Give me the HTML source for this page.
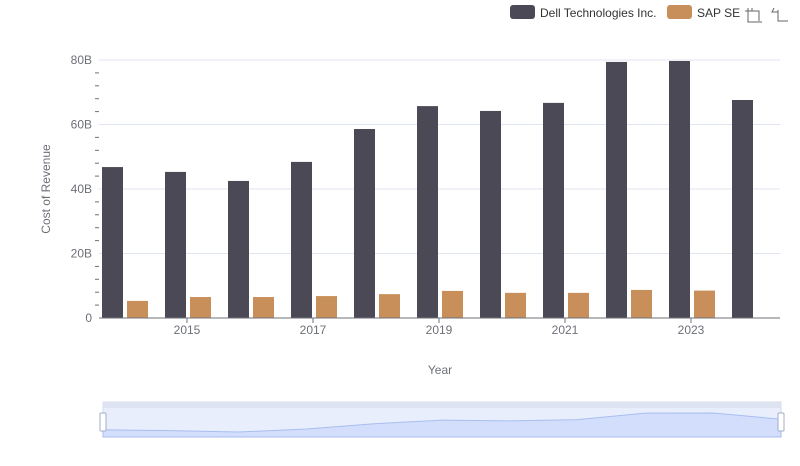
<!DOCTYPE html>
<html><head><meta charset="utf-8"><style>
body{margin:0;background:#fff;font-family:"Liberation Sans",sans-serif}
</style></head><body>
<svg id="c" width="800" height="461" xmlns="http://www.w3.org/2000/svg" font-family="Liberation Sans, sans-serif"></svg>
<script>
const years=[2014,2015,2016,2017,2018,2019,2020,2021,2022,2023,2024];
const dell=[46.8,45.3,42.5,48.4,58.6,65.7,64.2,66.7,79.4,79.7,67.6];
const sap=[5.3,6.5,6.5,6.8,7.4,8.4,7.8,7.8,8.7,8.5,null];
const yTicks=[0,20,40,60,80];
const yTickLabels=["0","20B","40B","60B","80B"];
const xLabelYears=[2015,2017,2019,2021,2023];
const svg=document.getElementById('c');
const NS='http://www.w3.org/2000/svg';
function mk(t,a,p){const e=document.createElementNS(NS,t);for(const k in a)e.setAttribute(k,a[k]);(p||svg).appendChild(e);return e;}
const X0=99,X1=780,Y0=318,Y80=60;
const gw=63;
const y=v=>Y0-(v/80)*(Y0-Y80);
const xc=i=>124+gw*i;
yTicks.forEach((t,i)=>{
 if(t>0){const g=mk('line',{x1:X0,x2:X1,y1:y(t),y2:y(t),stroke:'#e0e6f1'});}
 const l=mk('text',{x:92,y:y(t)+4,'text-anchor':'end','font-size':12,fill:'#6e7079'});l.textContent=yTickLabels[i];
 
});
for(let v=0;v<=80;v+=4){if(v%20){const m=mk('line',{x1:95,x2:99,y1:y(v),y2:y(v),stroke:'#6e7079'});}}
years.forEach((yr,i)=>{
 const c=xc(i);
 const b=mk('rect',{x:c-22,y:y(dell[i]),width:21,height:Y0-y(dell[i]),fill:'#4a4955'});
 
 if(sap[i]!=null){const s=mk('rect',{x:c+3,y:y(sap[i]),width:21,height:Y0-y(sap[i]),fill:'#c98f5a'});
 }
});
const ax=mk('line',{x1:X0,x2:X1,y1:Y0,y2:Y0,stroke:'#6e7079'});
xLabelYears.forEach(yr=>{const i=years.indexOf(yr);const c=xc(i);
 mk('line',{x1:c,x2:c,y1:Y0,y2:Y0+5,stroke:'#6e7079'});
 const t=mk('text',{x:c,y:Y0+16,'text-anchor':'middle','font-size':12,fill:'#6e7079'});t.textContent=yr;
 });
const yt=mk('text',{x:50,y:189,'text-anchor':'middle','font-size':12,fill:'#6e7079',transform:'rotate(-90 50 189)'});yt.textContent='Cost of Revenue';

const xt=mk('text',{x:440,y:374,'text-anchor':'middle','font-size':12,fill:'#6e7079'});xt.textContent='Year';

const lg=mk('g',{});
mk('rect',{x:510,y:5,width:25,height:14,rx:3,fill:'#4a4955'},lg);
let t1=mk('text',{x:540,y:17,'font-size':12,fill:'#333'},lg);t1.textContent='Dell Technologies Inc.';
mk('rect',{x:667,y:5,width:25,height:14,rx:3,fill:'#c98f5a'},lg);
let t2=mk('text',{x:697,y:17,'font-size':12,fill:'#333'},lg);t2.textContent='SAP SE';
const tb=mk('g',{stroke:'#666',fill:'none'});
mk('path',{d:'M748 8v14h14M745 11h14v10M752 8v3'},tb);
mk('path',{d:'M774 8l-2 4h6M778 10v11h10'},tb);
const sl=mk('g',{});
mk('rect',{x:103,y:402,width:678,height:35,fill:'#e8eefc',stroke:'#d2dbee'},sl);
mk('rect',{x:103,y:402,width:678,height:6,fill:'#dde3f0'},sl);
const dmin=Math.min(...dell),dmax=Math.max(...dell);
const sx=i=>103+678*i/(years.length-1);const sy=v=>432-(v-dmin)/(dmax-dmin)*19;
let d='M'+sx(0)+' 437';dell.forEach((v,i)=>d+=' L'+sx(i)+' '+sy(v));d+=' L'+sx(years.length-1)+' 437Z';
mk('path',{d:d,fill:'#d2defb',stroke:'#a9bef0'},sl);
mk('rect',{x:100,y:413,width:6,height:18,rx:1,fill:'#fff',stroke:'#a0aec8'},sl);
mk('rect',{x:778,y:413,width:6,height:18,rx:1,fill:'#fff',stroke:'#a0aec8'},sl);
</script>
</body></html>
